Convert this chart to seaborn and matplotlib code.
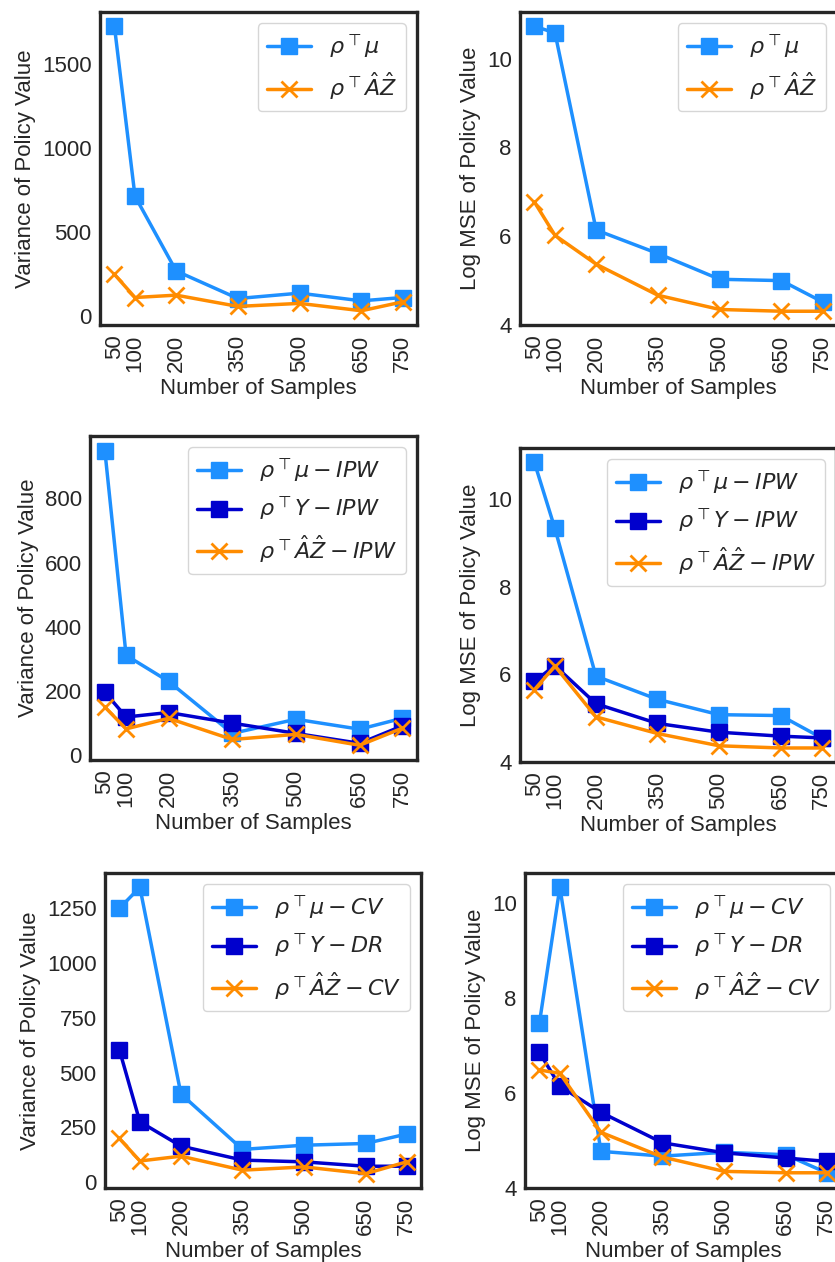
import numpy as np
import pandas as pd
import matplotlib
matplotlib.use("Agg")
import matplotlib.pyplot as plt
from matplotlib.ticker import MultipleLocator
import seaborn as sns

# ---------------- data ----------------
n_samples = [50, 100, 200, 350, 500, 650, 750]
x_ticks = [50, 100, 200, 350, 500, 650, 750]

# Row 1 (plain)
var_mu = [1724, 712, 267, 103, 135, 89, 109]
var_az = [247, 109, 123, 56, 74, 30, 83]
mse_mu = [10.73, 10.58, 6.14, 5.61, 5.03, 5.00, 4.52]
mse_az = [6.77, 6.02, 5.37, 4.67, 4.35, 4.31, 4.31]

# Row 2 (IPW)
var_mu_ipw = [948, 311, 230, 68, 112, 81, 115]
var_y_ipw = [196, 119, 133, 100, 68, 37, 91]
var_az_ipw = [150, 82, 115, 49, 65, 31, 84]
mse_mu_ipw = [10.84, 9.33, 5.96, 5.43, 5.08, 5.06, 4.55]
mse_y_ipw = [5.84, 6.20, 5.33, 4.88, 4.68, 4.59, 4.55]
mse_az_ipw = [5.65, 6.19, 5.03, 4.65, 4.37, 4.32, 4.32]

# Row 3 (CV / DR)
var_mu_cv = [1250, 1346, 402, 149, 168, 176, 219]
var_y_dr = [604, 275, 164, 100, 92, 72, 72]
var_az_cv = [199, 96, 118, 54, 69, 38, 92]
mse_mu_cv = [7.46, 10.32, 4.77, 4.67, 4.75, 4.70, 4.32]
mse_y_dr = [6.85, 6.14, 5.59, 4.95, 4.74, 4.63, 4.56]
mse_az_cv = [6.48, 6.41, 5.17, 4.65, 4.35, 4.32, 4.32]

# ---------------- style ----------------
sns.set_style("white")
plt.rcParams.update({
    "font.family": ["Liberation Sans", "DejaVu Sans"],
    "font.size": 16,
    "axes.labelsize": 16,
    "xtick.labelsize": 16,
    "ytick.labelsize": 16,
    "legend.fontsize": 16,
    "axes.edgecolor": "#262626",
    "axes.linewidth": 2.4,
    "xtick.major.size": 0,
    "ytick.major.size": 0,
    "xtick.major.pad": 7,
    "ytick.major.pad": 6,
    "text.color": "#262626",
    "axes.labelcolor": "#262626",
    "xtick.color": "#262626",
    "ytick.color": "#262626",
    "mathtext.fontset": "dejavusans",
})

C_MU = "#1E90FF"
C_Y = "#0000CD"
C_AZ = "#FF8C00"

W, H = 835, 1262
fig = plt.figure(figsize=(W / 100, H / 100), dpi=100)


def make_ax(x0, ytop, x1, ybot):
    return fig.add_axes([x0 / W, 1 - ybot / H, (x1 - x0) / W, (ybot - ytop) / H])


def draw(ax, series, ylabel, ystep, ybottom=None):
    for vals, color, marker, label in series:
        if marker == "s":
            sns.lineplot(x=n_samples, y=vals, ax=ax, color=color, marker="s",
                         markersize=11, markeredgecolor=color, markeredgewidth=1,
                         linewidth=2.5, label=label)
        else:
            sns.lineplot(x=n_samples, y=vals, ax=ax, color=color, marker="x",
                         markersize=11, markeredgecolor=color, markeredgewidth=2,
                         linewidth=2.5, label=label)
    ax.set_xticks(x_ticks)
    ax.set_xticklabels([str(t) for t in x_ticks], rotation=90)
    ax.yaxis.set_major_locator(MultipleLocator(ystep))
    if ybottom is not None:
        ax.set_ylim(bottom=ybottom)
    ax.set_xlabel("Number of Samples")
    ax.set_ylabel(ylabel)
    ax.legend(loc="upper right", frameon=True, fancybox=True,
              framealpha=0.8, edgecolor="#cccccc")
    for s in ax.spines.values():
        s.set_visible(True)


VAR = "Variance of Policy Value"
MSE = "Log MSE of Policy Value"

L_MU = r"$\rho^\top\mu$"
L_AZ = r"$\rho^\top\hat{A}\hat{Z}$"

ax = make_ax(100, 12, 417, 325)
draw(ax, [(var_mu, C_MU, "s", L_MU), (var_az, C_AZ, "x", L_AZ)], VAR, 500)

ax = make_ax(520, 12, 837, 325)
draw(ax, [(mse_mu, C_MU, "s", L_MU), (mse_az, C_AZ, "x", L_AZ)], MSE, 2, 4)

ax = make_ax(90, 436, 417, 760)
draw(ax, [(var_mu_ipw, C_MU, "s", r"$\rho^\top\mu - IPW$"),
          (var_y_ipw, C_Y, "s", r"$\rho^\top Y - IPW$"),
          (var_az_ipw, C_AZ, "x", r"$\rho^\top\hat{A}\hat{Z} - IPW$")], VAR, 200)

ax = make_ax(520, 448, 836, 762)
draw(ax, [(mse_mu_ipw, C_MU, "s", r"$\rho^\top\mu - IPW$"),
          (mse_y_ipw, C_Y, "s", r"$\rho^\top Y - IPW$"),
          (mse_az_ipw, C_AZ, "x", r"$\rho^\top\hat{A}\hat{Z} - IPW$")], MSE, 2, 4)

ax = make_ax(105, 873, 421, 1188)
draw(ax, [(var_mu_cv, C_MU, "s", r"$\rho^\top\mu - CV$"),
          (var_y_dr, C_Y, "s", r"$\rho^\top Y - DR$"),
          (var_az_cv, C_AZ, "x", r"$\rho^\top\hat{A}\hat{Z} - CV$")], VAR, 250)

ax = make_ax(525, 873, 841, 1188)
draw(ax, [(mse_mu_cv, C_MU, "s", r"$\rho^\top\mu - CV$"),
          (mse_y_dr, C_Y, "s", r"$\rho^\top Y - DR$"),
          (mse_az_cv, C_AZ, "x", r"$\rho^\top\hat{A}\hat{Z} - CV$")], MSE, 2, 4)

fig.savefig("out.png", dpi=100)
